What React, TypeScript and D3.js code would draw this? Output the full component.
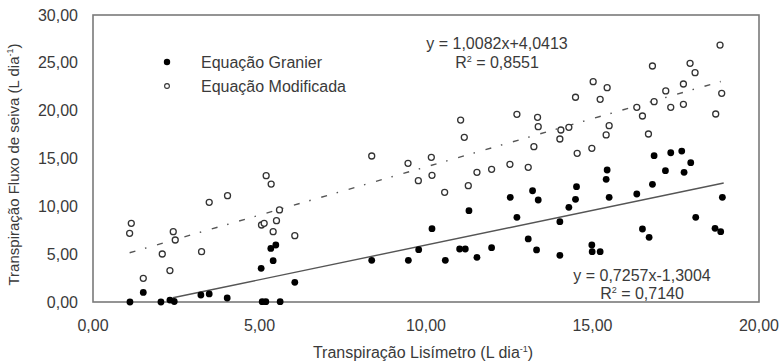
import * as d3 from "d3";

const xTicks = [0, 5, 10, 15, 20];
const yTicks = [0, 5, 10, 15, 20, 25, 30];

// Equação Granier (pontos cheios)
const granierX = [1.11, 1.51, 2.04, 2.31, 2.44, 3.24, 3.49, 4.03, 5.05, 5.08, 5.19, 5.34, 5.49, 5.41, 5.62, 6.06,
  8.37, 9.47, 9.78, 10.18, 10.58, 11.01, 11.18, 11.29, 11.53, 11.97, 12.53, 12.73, 13.07, 13.2, 13.32, 13.37,
  14.02, 14.02, 14.29, 14.49, 14.52, 14.98, 14.99, 15.23, 15.41, 15.44, 15.5, 16.33, 16.5, 16.7, 16.8, 16.85,
  17.19, 17.35, 17.68, 17.75, 17.95, 18.1, 18.68, 18.85, 18.9];
const granierY = [0, 1.0, 0, 0.2, 0.05, 0.73, 0.84, 0.42, 3.52, 0.03, 0.03, 5.6, 5.96, 4.32, 0.03, 2.06,
  4.36, 4.36, 5.47, 7.66, 4.36, 5.54, 5.54, 9.55, 4.67, 5.68, 10.94, 8.85, 6.59, 11.63, 5.44, 10.66,
  4.88, 8.4, 9.9, 10.73, 12.06, 5.96, 5.26, 5.26, 12.82, 13.8, 10.94, 11.29, 7.63, 6.76, 12.3, 15.3,
  13.73, 15.6, 15.78, 13.55, 14.56, 8.85, 7.7, 7.35, 10.94];

// Equação Modificada (pontos vazios)
const modificadaX = [1.15, 1.1, 1.51, 2.08, 2.31, 2.41, 2.47, 3.26, 3.49, 4.04, 5.06, 5.14, 5.2, 5.35, 5.41, 5.51,
  5.6, 6.06, 8.37, 9.46, 9.77, 10.16, 10.18, 10.56, 11.04, 11.15, 11.27, 11.53, 11.97, 12.52, 12.73, 13.07,
  13.24, 13.35, 13.37, 14.02, 14.05, 14.29, 14.49, 14.54, 14.98, 15.02, 15.23, 15.44, 15.41, 15.5, 16.33,
  16.5, 16.68, 16.8, 16.85, 17.2, 17.35, 17.73, 17.73, 17.93, 18.08, 18.7, 18.83, 18.88];
const modificadaY = [8.22, 7.18, 2.47, 5.02, 3.28, 7.35, 6.48, 5.26, 10.42, 11.11, 8.05, 8.22, 13.2, 12.33, 7.35, 8.5,
  9.62, 6.93, 15.26, 14.5, 12.68, 15.12, 13.24, 11.46, 19.02, 17.21, 12.16, 13.56, 13.87, 14.39, 19.62, 14.08,
  16.24, 19.3, 18.33, 17.04, 17.98, 18.26, 21.4, 15.54, 16.06, 23.03, 21.19, 22.4, 17.46, 18.43, 20.35,
  19.44, 17.56, 24.67, 20.94, 22.06, 20.35, 22.79, 20.66, 24.95, 23.97, 19.65, 26.86, 21.81];

// linhas de tendência: [inclinação, intercepto, x inicial, x final]
const granierFit = [0.7257, -1.3004, 2.4, 18.94];
const modificadaFit = [1.0082, 4.0413, 1.1, 18.85];

const W = 784, H = 364;
const m = { left: 93, right: 25, top: 15, bottom: 62 };
const FONT = "'Liberation Sans', Arial, sans-serif";
const TXT = "#3a3a3a";

const fmt = (v: number) => v.toFixed(2).replace(".", ",");

export default function App() {
  const x = d3.scaleLinear().domain([0, 20]).range([m.left, W - m.right]);
  const y = d3.scaleLinear().domain([0, 30]).range([H - m.bottom, m.top]);

  const fitLine = (f: number[]) =>
    d3.line<number>().x((d) => x(d)).y((d) => y(f[0] * d + f[1]))([f[2], f[3]]) || "";

  return (
    <svg width={W} height={H} style={{ position: "absolute", left: 0, top: 0, background: "#fff" }}
      fontFamily={FONT}>
      <rect x={x(0)} y={y(30)} width={x(20) - x(0)} height={y(0) - y(30)}
        fill="none" stroke="#7a7a7a" strokeWidth={1.6} />

      {yTicks.map((t) => (
        <text key={"y" + t} x={78} y={y(t)} dy="0.35em" textAnchor="end" fontSize={16} fill={TXT}>
          {fmt(t)}
        </text>
      ))}
      {xTicks.map((t) => (
        <text key={"x" + t} x={x(t)} y={325} dy="0.35em" textAnchor="middle" fontSize={16} fill={TXT}>
          {fmt(t)}
        </text>
      ))}

      <text x={(x(0) + x(20)) / 2 - 3} y={352} dy="0.35em" textAnchor="middle" fontSize={16} fill={TXT}>
        Transpiração Lisímetro (L dia<tspan fontSize={9} dy="-6">-1</tspan><tspan dy="6">)</tspan>
      </text>
      <text transform={`translate(14,${(y(0) + y(30)) / 2 + 6}) rotate(-90)`} dy="0.35em" textAnchor="middle"
        fontSize={15} fill={TXT}>
        Transpiração Fluxo de seiva (L dia<tspan fontSize={9} dy="-6">-1</tspan><tspan dy="6">)</tspan>
      </text>

      <path d={fitLine(granierFit)} fill="none" stroke="#555" strokeWidth={1.4} />
      <path d={fitLine(modificadaFit)} fill="none" stroke="#555" strokeWidth={1.4}
        strokeDasharray="6,10,1.5,11" />

      {modificadaX.map((d, i) => (
        <circle key={"m" + i} cx={x(d)} cy={y(modificadaY[i])} r={3} fill="#fff" stroke="#333" strokeWidth={1.3} />
      ))}
      {granierX.map((d, i) => (
        <circle key={"g" + i} cx={x(d)} cy={y(granierY[i])} r={3.4} fill="#000" />
      ))}

      <circle cx={167} cy={62} r={3.2} fill="#000" />
      <circle cx={167} cy={86} r={2.4} fill="#fff" stroke="#333" strokeWidth={1.1} />
      <text x={201} y={62} dy="0.35em" fontSize={16} fill={TXT}>Equação Granier</text>
      <text x={201} y={86} dy="0.35em" fontSize={16} fill={TXT}>Equação Modificada</text>

      <text x={497} y={43} dy="0.35em" textAnchor="middle" fontSize={16} fill={TXT}>y = 1,0082x+4,0413</text>
      <text x={497} y={62} dy="0.35em" textAnchor="middle" fontSize={16} fill={TXT}>
        R<tspan fontSize={9} dy="-6">2</tspan><tspan dy="6"> = 0,8551</tspan>
      </text>
      <text x={642} y={275} dy="0.35em" textAnchor="middle" fontSize={16} fill={TXT}>y = 0,7257x-1,3004</text>
      <text x={642} y={293} dy="0.35em" textAnchor="middle" fontSize={16} fill={TXT}>
        R<tspan fontSize={9} dy="-6">2</tspan><tspan dy="6"> = 0,7140</tspan>
      </text>
    </svg>
  );
}
